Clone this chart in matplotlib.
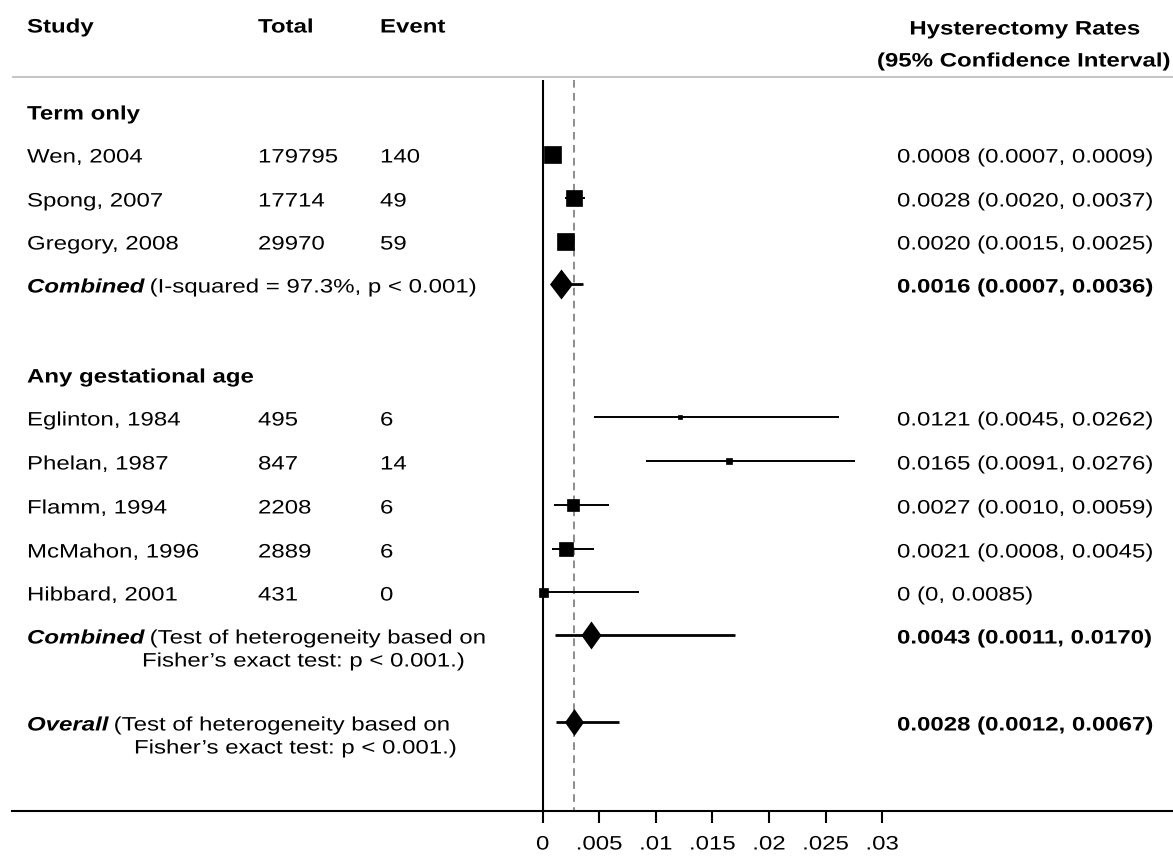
import matplotlib
matplotlib.use('Agg')
import matplotlib.pyplot as plt
from matplotlib.path import Path
from matplotlib.patheffects import AbstractPathEffect
from matplotlib.transforms import Affine2D

# study level data
studies = ['Wen, 2004', 'Spong, 2007', 'Gregory, 2008', 'Eglinton, 1984',
           'Phelan, 1987', 'Flamm, 1994', 'McMahon, 1996', 'Hibbard, 2001']
totals = [179795, 17714, 29970, 495, 847, 2208, 2889, 431]
events = [140, 49, 59, 6, 14, 6, 6, 0]
rates = [0.0008, 0.0028, 0.0020, 0.0121, 0.0165, 0.0027, 0.0021, 0.0]
lower = [0.0007, 0.0020, 0.0015, 0.0045, 0.0091, 0.0010, 0.0008, 0.0]
upper = [0.0009, 0.0037, 0.0025, 0.0262, 0.0276, 0.0059, 0.0045, 0.0085]
rate_labels = ['0.0008 (0.0007, 0.0009)', '0.0028 (0.0020, 0.0037)',
               '0.0020 (0.0015, 0.0025)', '0.0121 (0.0045, 0.0262)',
               '0.0165 (0.0091, 0.0276)', '0.0027 (0.0010, 0.0059)',
               '0.0021 (0.0008, 0.0045)', '0 (0, 0.0085)']

# pooled estimates
groups = ['Term only', 'Any gestational age']
pooled_names = ['Combined', 'Combined', 'Overall']
pooled_notes = ['(I-squared = 97.3%, p < 0.001)',
                '(Test of heterogeneity based on',
                '(Test of heterogeneity based on']
pooled_notes2 = ['', 'Fisher\u2019s exact test: p < 0.001.)',
                 'Fisher\u2019s exact test: p < 0.001.)']
pooled_rates = [0.0016, 0.0043, 0.0028]
pooled_lower = [0.0007, 0.0011, 0.0012]
pooled_upper = [0.0036, 0.0170, 0.0067]
pooled_labels = ['0.0016 (0.0007, 0.0036)', '0.0043 (0.0011, 0.0170)',
                 '0.0028 (0.0012, 0.0067)']

xticks = [0, 0.005, 0.01, 0.015, 0.02, 0.025, 0.03]
xtick_labels = ['0', '.005', '.01', '.015', '.02', '.025', '.03']

# layout (pixels)
W, H = 1173, 858
X0 = 542.7            # pixel of rate 0
SCALE = 56.6 / 0.005  # pixels per unit
study_y = [154, 198, 241, 417, 461, 505, 549, 592]
group_y = [115, 378]
pooled_y = [284, 635, 722]
box_px = [17, 16, 17, 5, 6, 12, 14, 9]
diamond_px = [(23, 30), (20, 28), (19, 27)]
note2_x = [0, 142, 134]
TXT = 4  # text sits a little below the marker centre
AXIS_Y = 811
FS = 14
SX = 1.235


class Widen(AbstractPathEffect):
    """stretch glyphs horizontally, the source figure uses wide text"""

    def __init__(self, sx=SX, centre=False):
        super().__init__()
        self.sx = sx
        self.centre = centre

    def draw_path(self, renderer, gc, tpath, affine, rgbFace=None):
        cx = 0
        if self.centre:
            ext = tpath.get_extents()
            cx = (ext.x0 + ext.x1) / 2
        stretch = Affine2D().translate(-cx, 0).scale(self.sx, 1).translate(cx, 0)
        renderer.draw_path(gc, tpath, stretch + affine, rgbFace)


plt.rcParams['font.family'] = ['Liberation Sans', 'DejaVu Sans']

fig = plt.figure(figsize=(W / 100, H / 100), dpi=100)
ax = fig.add_axes([0, 0, 1, 1])
ax.set_xlim(-X0 / SCALE, (W - X0) / SCALE)
ax.set_ylim(H, 0)
ax.axis('off')
renderer = fig.canvas.get_renderer()


def put(x, y, s, weight='normal', style='normal', ha='left'):
    return ax.text(x / W, y, s, transform=ax.get_yaxis_transform(),
                   fontsize=FS, fontweight=weight, fontstyle=style, ha=ha,
                   va='center', path_effects=[Widen(centre=(ha == 'center'))])


def wide_width(t):
    # drawn width of a left aligned, stretched text
    return t.get_window_extent(renderer=renderer).width * SX


# headers
put(27, 28, 'Study', weight='bold')
put(258, 28, 'Total', weight='bold')
put(380, 28, 'Event', weight='bold')
put(1025, 30, 'Hysterectomy Rates', weight='bold', ha='center')
put(1024, 62, '(95% Confidence Interval)', weight='bold', ha='center')
ax.axhline(77, xmin=13 / W, xmax=1, color='#bfbfbf', lw=1.3)

for g, y in zip(groups, group_y):
    put(27, y, g, weight='bold')

# reference lines
ax.vlines(0, 80, AXIS_Y, colors='black', lw=1.5)
ax.vlines(pooled_rates[2], 80, AXIS_Y, colors='#6e6e6e', lw=1.1,
          linestyles=(0, (5, 3.5)))

# individual studies
for i in range(len(studies)):
    y = study_y[i]
    ax.plot([lower[i], upper[i]], [y, y], color='black', lw=1.4,
            solid_capstyle='butt')
    ax.plot(rates[i], y, marker='s', ms=box_px[i] * 0.72, color='black',
            mec='black', mew=0.5)
    put(27, y + TXT, studies[i])
    put(258, y + TXT, str(totals[i]))
    put(380, y + TXT, str(events[i]))
    put(897, y + TXT, rate_labels[i])

# pooled rows
for i in range(len(pooled_rates)):
    y = pooled_y[i]
    w, h = diamond_px[i]
    r = w / h
    diamond = Path([(0, 1), (r, 0), (0, -1), (-r, 0), (0, 1)],
                   [Path.MOVETO, Path.LINETO, Path.LINETO, Path.LINETO,
                    Path.CLOSEPOLY])
    ax.plot([pooled_lower[i], pooled_upper[i]], [y, y], color='black', lw=2,
            solid_capstyle='butt')
    ax.plot(pooled_rates[i], y, marker=diamond, ms=h * 0.72, color='black',
            mec='black', mew=0)
    name = put(27, y + TXT, pooled_names[i], weight='bold', style='italic')
    put(27 + wide_width(name) + 5, y + TXT, pooled_notes[i])
    if pooled_notes2[i]:
        put(note2_x[i], y + TXT + 23, pooled_notes2[i])
    put(897, y + TXT, pooled_labels[i], weight='bold')

# x axis
ax.axhline(AXIS_Y, xmin=12 / W, xmax=1, color='black', lw=1.5)
ax.vlines(xticks, AXIS_Y, AXIS_Y + 12, colors='black', lw=1.5)
for t, lab in zip(xticks, xtick_labels):
    ax.text(t, 845, lab, fontsize=FS, ha='center', va='center',
            path_effects=[Widen(centre=True)])

fig.savefig('out.png', dpi=100)
